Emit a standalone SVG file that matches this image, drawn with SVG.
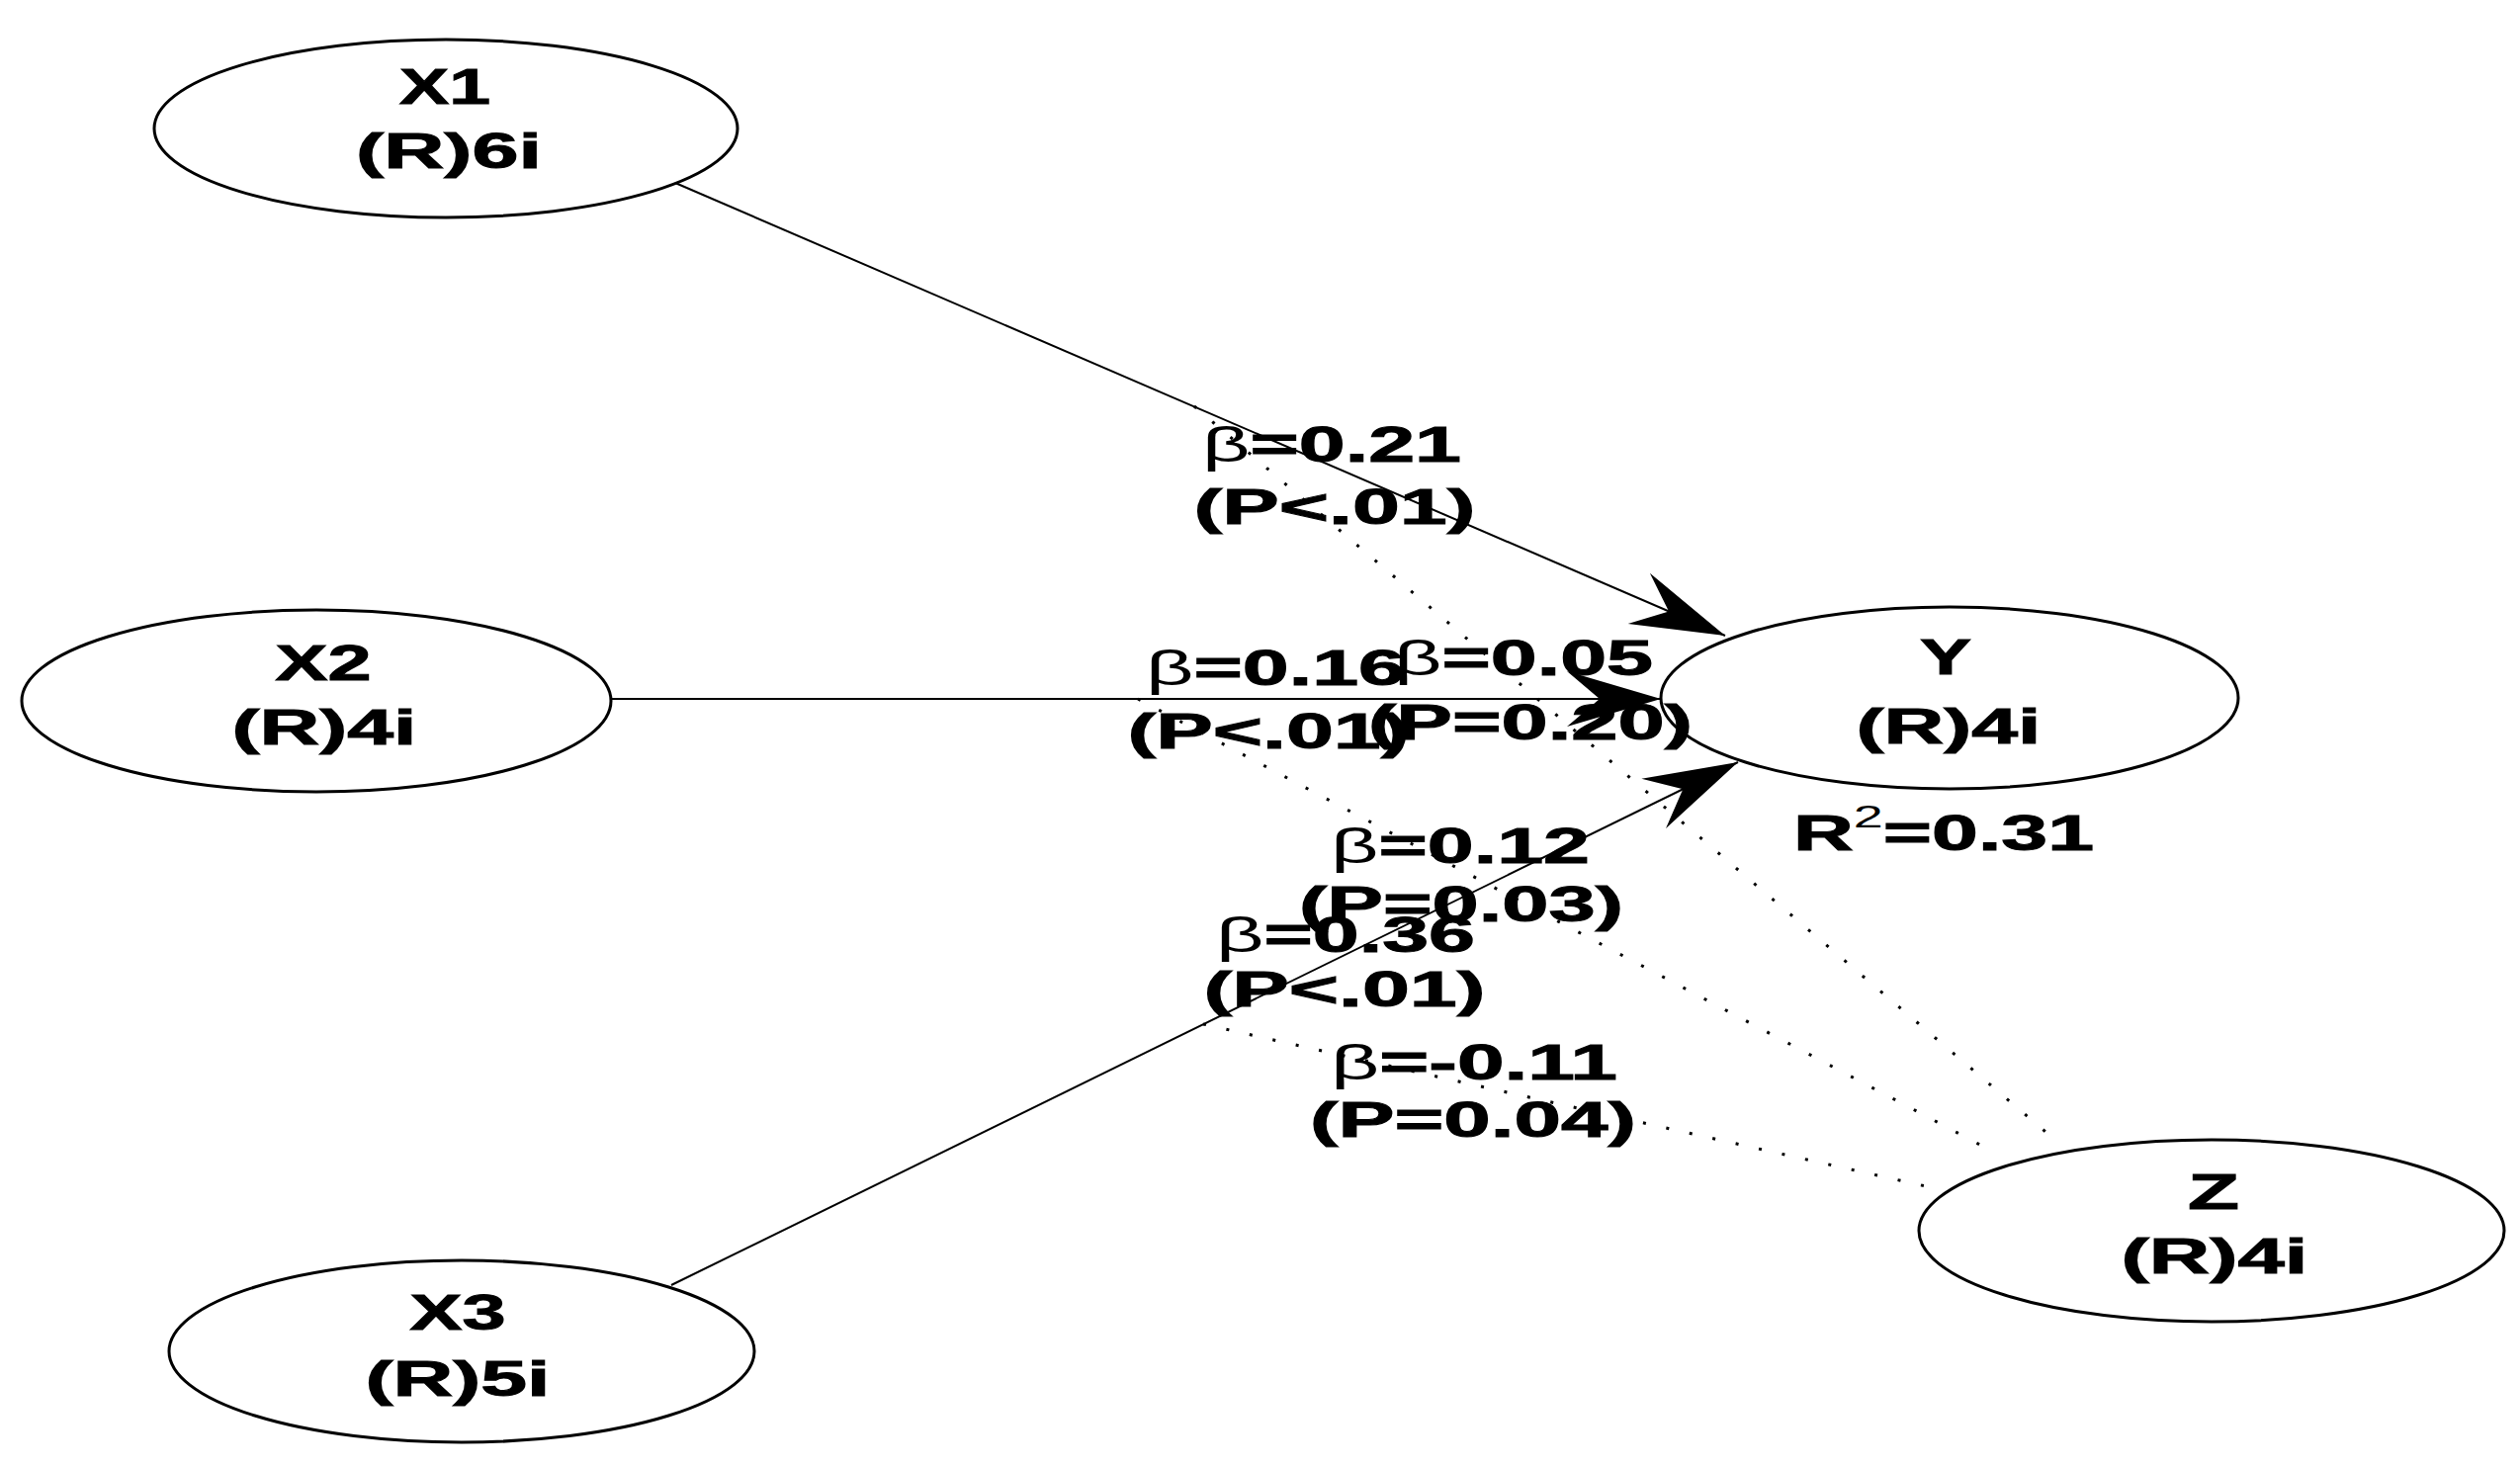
<svg xmlns="http://www.w3.org/2000/svg" width="2549" height="1484" viewBox="0 0 2549 1484">
<style>
.node ellipse{fill:#fff;stroke:#000;stroke-width:3}
text{font-family:"Liberation Sans",Arial,sans-serif;font-weight:bold;font-size:50px;fill:#000;stroke:#000;stroke-width:1;text-anchor:middle}
.g{font-weight:normal;stroke-width:0}
.solid{stroke:#000;stroke-width:2;fill:none}
.dot{stroke:#000;stroke-width:3;fill:none;stroke-dasharray:3 21}
</style>
<defs>
<marker id="ah" markerUnits="userSpaceOnUse" markerWidth="110" markerHeight="70" viewBox="-100 -35 110 70" refX="0" refY="0" orient="auto" overflow="visible">
<path d="M0,0 L-95,-28 L-62,0 L-95,28 Z" fill="#000"/>
</marker>
</defs>
<rect width="2549" height="1484" fill="#fff"/>
<g id="connectors">
<line class="solid" x1="683" y1="185" x2="1745" y2="643" marker-end="url(#ah)"/>
<line class="solid" x1="617" y1="707" x2="1680" y2="707" marker-end="url(#ah)"/>
<line class="solid" x1="679" y1="1300" x2="1758" y2="771" marker-end="url(#ah)"/>
<line class="dot" x1="1208" y1="411" x2="2075" y2="1150"/>
<line class="dot" x1="1151" y1="707" x2="2016" y2="1165"/>
<line class="dot" x1="1217" y1="1036" x2="1948" y2="1200"/>
</g>
<g id="node-X1" class="node">
<ellipse cx="451" cy="130" rx="295" ry="90"/>
<text x="450" y="105" textLength="92" lengthAdjust="spacingAndGlyphs">X1</text>
<text x="454" y="170" textLength="188" lengthAdjust="spacingAndGlyphs">(R)6i</text>
</g>
<g id="node-X2" class="node">
<ellipse cx="320" cy="709" rx="298" ry="92"/>
<text x="327" y="688" textLength="97" lengthAdjust="spacingAndGlyphs">X2</text>
<text x="328" y="753" textLength="187" lengthAdjust="spacingAndGlyphs">(R)4i</text>
</g>
<g id="node-X3" class="node">
<ellipse cx="467" cy="1367" rx="296" ry="92"/>
<text x="463" y="1345" textLength="97" lengthAdjust="spacingAndGlyphs">X3</text>
<text x="463" y="1412" textLength="187" lengthAdjust="spacingAndGlyphs">(R)5i</text>
</g>
<g id="node-Y" class="node">
<ellipse cx="1972" cy="706" rx="292" ry="92"/>
<text x="1968" y="682" textLength="52" lengthAdjust="spacingAndGlyphs">Y</text>
<text x="1971" y="752" textLength="187" lengthAdjust="spacingAndGlyphs">(R)4i</text>
<text x="1966" y="860" textLength="304" lengthAdjust="spacingAndGlyphs">R<tspan dy="-23" style="font-size:32px;font-weight:normal;stroke-width:0">2</tspan><tspan dy="23">=0.31</tspan></text>
</g>
<g id="node-Z" class="node">
<ellipse cx="2237" cy="1245" rx="296" ry="92"/>
<text x="2239" y="1223" textLength="52" lengthAdjust="spacingAndGlyphs">Z</text>
<text x="2240" y="1288" textLength="189" lengthAdjust="spacingAndGlyphs">(R)4i</text>
</g>
<g id="labels">
<text x="1347" y="467" textLength="262" lengthAdjust="spacingAndGlyphs"><tspan class="g">β</tspan>=0.21</text>
<text x="1350" y="530" textLength="285" lengthAdjust="spacingAndGlyphs">(P&lt;.01)</text>
<text x="1290" y="693" textLength="262" lengthAdjust="spacingAndGlyphs"><tspan class="g">β</tspan>=0.16</text>
<text x="1283" y="757" textLength="285" lengthAdjust="spacingAndGlyphs">(P&lt;.01)</text>
<text x="1541" y="683" textLength="262" lengthAdjust="spacingAndGlyphs"><tspan class="g">β</tspan>=0.05</text>
<text x="1548" y="748" textLength="328" lengthAdjust="spacingAndGlyphs">(P=0.20)</text>
<text x="1477" y="873" textLength="262" lengthAdjust="spacingAndGlyphs"><tspan class="g">β</tspan>=0.12</text>
<text x="1478" y="932" textLength="328" lengthAdjust="spacingAndGlyphs">(P=0.03)</text>
<text x="1361" y="963" textLength="262" lengthAdjust="spacingAndGlyphs"><tspan class="g">β</tspan>=0.36</text>
<text x="1360" y="1018" textLength="285" lengthAdjust="spacingAndGlyphs">(P&lt;.01)</text>
<text x="1491" y="1092" textLength="290" lengthAdjust="spacingAndGlyphs"><tspan class="g">β</tspan>=-0.11</text>
<text x="1490" y="1150" textLength="330" lengthAdjust="spacingAndGlyphs">(P=0.04)</text>
</g>
</svg>
